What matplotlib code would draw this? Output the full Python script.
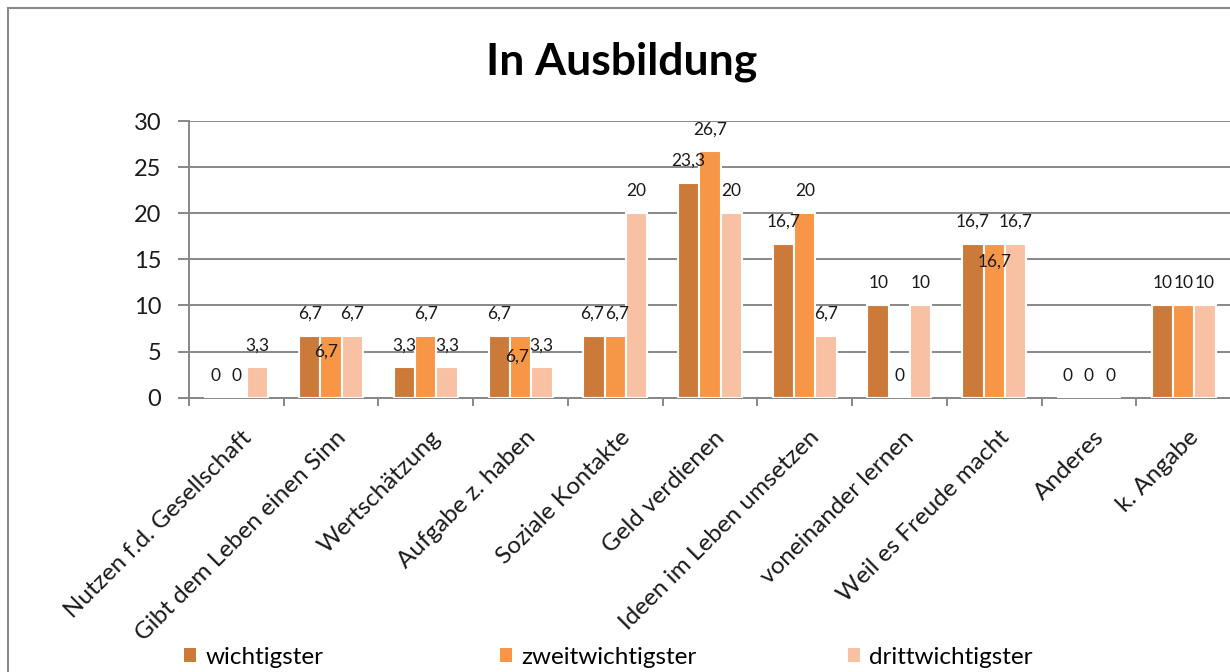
import matplotlib
matplotlib.use("Agg")
import matplotlib.pyplot as plt
import numpy as np
from matplotlib.patches import Patch, Rectangle
from matplotlib.transforms import ScaledTranslation

categories = ["Nutzen f.d. Gesellschaft", "Gibt dem Leben einen Sinn", "Wertschätzung",
              "Aufgabe z. haben", "Soziale Kontakte", "Geld verdienen",
              "Ideen im Leben umsetzen", "voneinander lernen", "Weil es Freude macht",
              "Anderes", "k. Angabe"]
series_names = ["wichtigster", "zweitwichtigster", "drittwichtigster"]
wichtigster = [0, 6.7, 3.3, 6.7, 6.7, 23.3, 16.7, 10, 16.7, 0, 10]
zweitwichtigster = [0, 6.7, 6.7, 6.7, 6.7, 26.7, 20, 0, 16.7, 0, 10]
drittwichtigster = [3.3, 6.7, 3.3, 3.3, 20, 20, 6.7, 10, 16.7, 0, 10]
yticks = [0, 5, 10, 15, 20, 25, 30]
title = "In Ausbildung"

colors = ["#CC7A39", "#F69646", "#F9C1A4"]
FONT = "Lato"
W, H = 1230, 672
DPI = 100

fig = plt.figure(figsize=(W / DPI, H / DPI), dpi=DPI)
ax = fig.add_axes([189 / W, 1 - 397.7 / H, (1231 - 189) / W, (397.7 - 121) / H])

series = [wichtigster, zweitwichtigster, drittwichtigster]
x = np.arange(len(categories))
bw = 0.225
# label offsets in pixels (dx, dy) relative to bar top; default centred 22 px above
label_adjust = {(1, 1): (-5, -16), (1, 3): (-3, -21), (1, 8): (0, -18),
                (0, 4): (-2, 22), (1, 4): (2, 22)}

for i, (vals, name, col) in enumerate(zip(series, series_names, colors)):
    xs = x + (i - 1) * bw
    ax.bar(xs, vals, width=bw, color=col, edgecolor="white", linewidth=1.5,
           label=name, zorder=3)
    for j, (xx, v) in enumerate(zip(xs, vals)):
        dx, dy = label_adjust.get((i, j), (0, 22))
        txt = f"{v:g}".replace(".", ",")
        ax.annotate(txt, xy=(xx, v), xytext=(dx, dy), textcoords="offset pixels",
                    ha="center", va="center", fontsize=12.5, family=FONT,
                    color="#1a1a1a", zorder=5)

ax.set_xlim(-0.5, len(categories) - 0.5)
ax.set_ylim(0, 30)
ax.set_yticks(yticks)
ax.set_yticklabels([str(t) for t in yticks], family=FONT, fontsize=17)
ax.yaxis.grid(True, color="#878787", linewidth=1.4, zorder=0)
ax.set_axisbelow(True)

ax.set_xticks(x)
ax.set_xticklabels(categories, rotation=45, ha="right", va="top",
                   rotation_mode="anchor", family=FONT, fontsize=17.5)
ax.set_xticks(np.arange(len(categories) + 1) - 0.5, minor=True)
ax.tick_params(axis="x", which="major", length=0, pad=21)
ax.tick_params(axis="x", which="minor", length=6, width=1.4, color="#878787", direction="out")
ax.tick_params(axis="y", length=8, width=1.4, color="#878787", pad=12, labelcolor="#1a1a1a")
for lab in ax.get_xticklabels():
    lab.set_transform(lab.get_transform() + ScaledTranslation(4 / DPI, 0, fig.dpi_scale_trans))
    lab.set_color("#1a1a1a")

for s in ["top", "right"]:
    ax.spines[s].set_visible(False)
for s in ["left", "bottom"]:
    ax.spines[s].set_color("#878787")
    ax.spines[s].set_linewidth(1.4)

fig.text(622 / W, 1 - 74 / H, title, ha="center", va="baseline", fontsize=32,
         fontweight="bold", family=FONT, color="black")

# legend entries placed individually
for name, col, lx in zip(series_names, colors, [184, 500, 848]):
    fig.legend(handles=[Patch(facecolor=col, edgecolor="none", label=name)],
               loc="center left", bbox_to_anchor=(lx / W, 1 - 657 / H),
               frameon=False, prop={"family": FONT, "size": 17.5},
               handlelength=0.5, handleheight=0.55, handletextpad=0.37,
               borderpad=0, borderaxespad=0)

# chart border (right and bottom lie outside the picture)
fig.patches.append(Rectangle((8 / W, -0.1), 1.2, (H - 8) / H + 0.1,
                             transform=fig.transFigure, fill=False,
                             edgecolor="#8a8a8a", linewidth=1.5))

fig.savefig("out.png", dpi=DPI)
